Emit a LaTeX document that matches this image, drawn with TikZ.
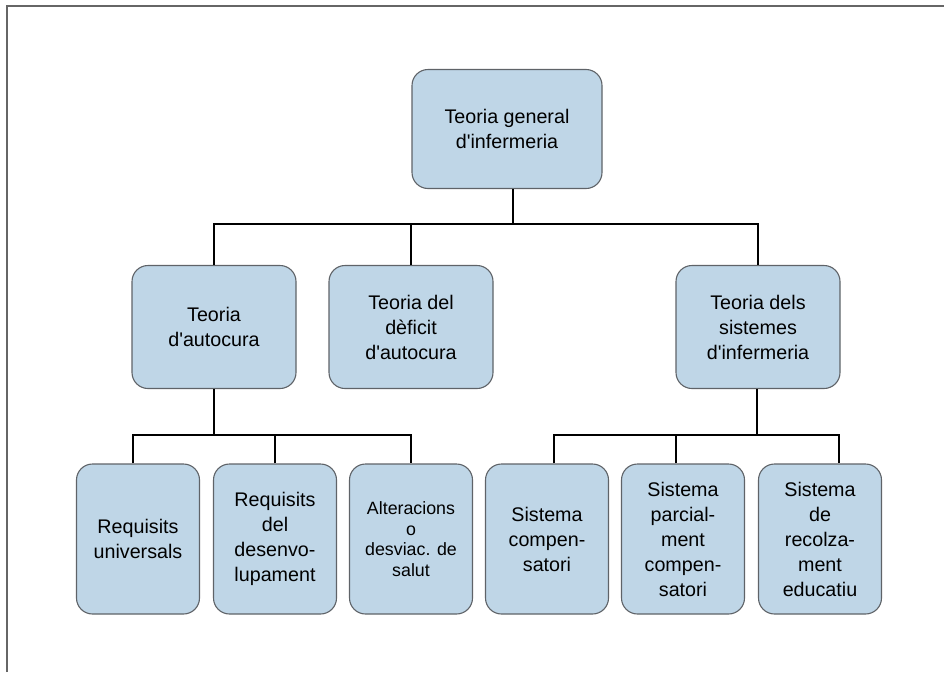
\documentclass[tikz,border=0pt]{standalone}
\usepackage{fontspec}
\setmainfont{Liberation Sans}
\usetikzlibrary{calc}
\definecolor{bleu}{RGB}{191,214,231}
\definecolor{bord}{RGB}{95,99,104}
\newcommand{\ap}{\textquotesingle}
\newcommand{\boite}[5]{\node[case, minimum width=#4, minimum height=#5] (#1) at (#2) {#3}}

\begin{document}
\begin{tikzpicture}[x=1pt, y=-1pt,
    case/.style={draw=bord, fill=bleu, line width=1.1pt, rounded corners=16pt,
                 align=center, inner sep=0pt, font=\fontsize{19.7}{25}\selectfont},
    trait/.style={line width=1.8pt, black}]
    \useasboundingbox (0,0) rectangle (944,672);
    \draw[line width=2pt, black!60] (7,672) -- (7,6) -- (944,6);

    % niveau 1
    \boite{gen}{507,129}{Teoria general\\d\ap infermeria}{190pt}{119pt};

    % niveau 2
    \boite{auto}{214,327}{Teoria\\d\ap autocura}{164pt}{123pt};
    \boite{def}{411,327}{Teoria del\\dèficit\\d\ap autocura}{164pt}{123pt};
    \boite{sis}{758,327}{Teoria dels\\sistemes\\d\ap infermeria}{164pt}{123pt};

    % niveau 3
    \boite{ur}{138,539}{Requisits\\universals}{123pt}{150pt};
    \boite{des}{275,539}{Requisits\\del\\desenvo-\\lupament}{123pt}{150pt};
    \node[case, minimum width=123pt, minimum height=150pt,
          font=\fontsize{17.8}{20.5}\selectfont] (alt) at (411,539)
          {Alteracions\\o\\desviac. de\\salut};
    \boite{comp}{547,539}{Sistema\\compen-\\satori}{123pt}{150pt};
    \boite{parc}{683,539}{Sistema\\parcial-\\ment\\compen-\\satori}{123pt}{150pt};
    \boite{rec}{820,539}{Sistema\\de\\recolza-\\ment\\educatiu}{123pt}{150pt};

    % branques
    \coordinate (b1) at (513,224);
    \coordinate (b2) at (214,435);
    \coordinate (b3) at (757,435);

    \draw[trait] (gen.south -| b1) -- (b1);
    \draw[trait] (auto.north) |- (b1) -| (sis.north);
    \draw[trait] (def.north) -- (def.north |- b1);

    \draw[trait] (auto.south) -- (b2);
    \draw[trait] ([xshift=-5pt]ur.north) |- (b2) -| (alt.north);
    \draw[trait] (des.north) -- (des.north |- b2);

    \draw[trait] (sis.south -| b3) -- (b3);
    \draw[trait] ([xshift=7pt]comp.north) |- (b3) -| ([xshift=19pt]rec.north);
    \draw[trait] ([xshift=-7pt]parc.north) -- ([xshift=-7pt]parc.north |- b3);
\end{tikzpicture}
\end{document}
